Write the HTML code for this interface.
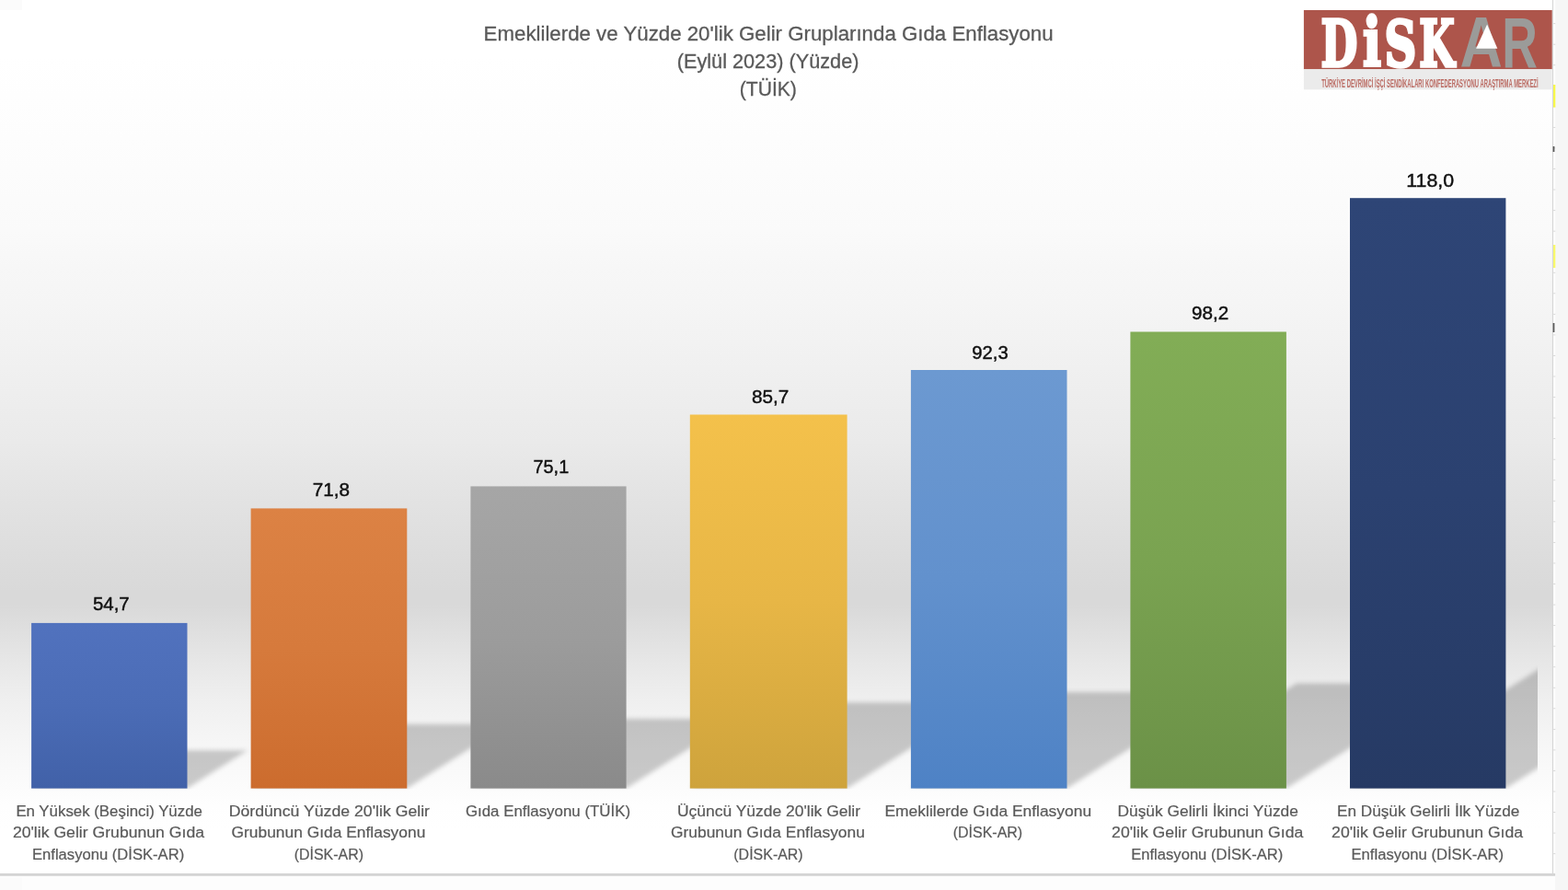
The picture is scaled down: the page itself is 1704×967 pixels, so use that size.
<!DOCTYPE html>
<html lang="tr">
<head>
<meta charset="utf-8">
<title>Emeklilerde ve Yüzde 20'lik Gelir Gruplarında Gıda Enflasyonu</title>
<style>
html,body{margin:0;padding:0;background:#fff;}
body{width:1704px;height:967px;overflow:hidden;position:relative;font-family:"Liberation Sans",sans-serif;}
svg{display:block;position:absolute;left:0;top:0;}
text{font-family:"Liberation Sans",sans-serif;}
.t{fill:#595959;font-size:21.5px;stroke:#595959;stroke-width:0.3px;}
.c{fill:#595959;font-size:16.8px;stroke:#595959;stroke-width:0.22px;}
.d{fill:#111111;font-size:20.9px;stroke:#111111;stroke-width:0.45px;}
</style>
</head>
<body>
<svg width="1704" height="967" viewBox="0 0 1704 967" role="img" aria-label="Emeklilerde ve Yüzde 20'lik Gelir Gruplarında Gıda Enflasyonu">
<defs>
<linearGradient id="bg" x1="0" y1="0" x2="0" y2="949" gradientUnits="userSpaceOnUse">
<stop offset="0.0000" stop-color="#ffffff"/>
<stop offset="0.0632" stop-color="#ffffff"/>
<stop offset="0.1581" stop-color="#fdfdfd"/>
<stop offset="0.2634" stop-color="#fafafa"/>
<stop offset="0.3056" stop-color="#f7f7f7"/>
<stop offset="0.3477" stop-color="#f5f5f5"/>
<stop offset="0.4215" stop-color="#f0f0f0"/>
<stop offset="0.5058" stop-color="#eaeaea"/>
<stop offset="0.5690" stop-color="#e3e3e3"/>
<stop offset="0.6112" stop-color="#dfdfdf"/>
<stop offset="0.6533" stop-color="#dbdbdb"/>
<stop offset="0.6776" stop-color="#d9d9d9"/>
<stop offset="0.6923" stop-color="#d9d9d9"/>
<stop offset="0.7165" stop-color="#dedede"/>
<stop offset="0.7587" stop-color="#e7e7e7"/>
<stop offset="0.8008" stop-color="#efefef"/>
<stop offset="0.8430" stop-color="#f5f5f5"/>
<stop offset="0.8851" stop-color="#fafafa"/>
<stop offset="0.9220" stop-color="#fefefe"/>
<stop offset="0.9484" stop-color="#ffffff"/>
<stop offset="1.0000" stop-color="#ffffff"/>
</linearGradient>
<linearGradient id="g0" x1="0" y1="0" x2="0" y2="1"><stop offset="0" stop-color="rgb(81,114,190)"/><stop offset="0.5" stop-color="rgb(75,108,182)"/><stop offset="1" stop-color="rgb(65,97,168)"/></linearGradient>
<linearGradient id="g1" x1="0" y1="0" x2="0" y2="1"><stop offset="0" stop-color="rgb(220,130,68)"/><stop offset="0.5" stop-color="rgb(214,122,60)"/><stop offset="1" stop-color="rgb(204,108,46)"/></linearGradient>
<linearGradient id="g2" x1="0" y1="0" x2="0" y2="1"><stop offset="0" stop-color="rgb(166,166,166)"/><stop offset="0.5" stop-color="rgb(156,156,156)"/><stop offset="1" stop-color="rgb(138,138,138)"/></linearGradient>
<linearGradient id="g3" x1="0" y1="0" x2="0" y2="1"><stop offset="0" stop-color="rgb(244,193,75)"/><stop offset="0.5" stop-color="rgb(231,182,70)"/><stop offset="1" stop-color="rgb(206,163,60)"/></linearGradient>
<linearGradient id="g4" x1="0" y1="0" x2="0" y2="1"><stop offset="0" stop-color="rgb(108,153,209)"/><stop offset="0.5" stop-color="rgb(98,145,205)"/><stop offset="1" stop-color="rgb(78,130,197)"/></linearGradient>
<linearGradient id="g5" x1="0" y1="0" x2="0" y2="1"><stop offset="0" stop-color="rgb(130,173,86)"/><stop offset="0.5" stop-color="rgb(122,163,81)"/><stop offset="1" stop-color="rgb(107,145,71)"/></linearGradient>
<linearGradient id="g6" x1="0" y1="0" x2="0" y2="1"><stop offset="0" stop-color="rgb(46,69,118)"/><stop offset="0.5" stop-color="rgb(43,65,112)"/><stop offset="1" stop-color="rgb(38,58,100)"/></linearGradient>
<filter id="bl" x="-20%" y="-20%" width="140%" height="140%"><feGaussianBlur stdDeviation="2.6"/></filter>
<clipPath id="plot"><rect x="0" y="0" width="1671" height="857.6"/></clipPath>
</defs>
<rect x="0" y="0" width="1704" height="967" fill="#f6f6f6"/>
<rect x="0" y="951" width="1690" height="16" fill="#fdfdfd"/>
<rect x="0" y="953" width="24" height="14" fill="#fbfbfb"/>
<rect x="0" y="0" width="1690.2" height="951" fill="#ffffff"/>
<rect x="0" y="0" width="1687.4" height="949.4" fill="url(#bg)"/>
<rect x="0" y="0" width="24" height="11" fill="#fbfbfb"/>
<rect x="0" y="948.9" width="1690" height="2.9" fill="#d4d4d4"/>
<rect x="1686.9" y="0" width="1.2" height="950" fill="#d6d6d6"/>
<g id="edge-marks">
<rect x="1688.2" y="25.2" width="2" height="0.9" fill="#d2d2d2"/>
<rect x="1688.2" y="47.75" width="2" height="0.9" fill="#d2d2d2"/>
<rect x="1688.2" y="70.3" width="2" height="0.9" fill="#d2d2d2"/>
<rect x="1688.2" y="92.85" width="2" height="0.9" fill="#d2d2d2"/>
<rect x="1688.2" y="115.4" width="2" height="0.9" fill="#d2d2d2"/>
<rect x="1688.2" y="137.95" width="2" height="0.9" fill="#d2d2d2"/>
<rect x="1688.2" y="160.5" width="2" height="0.9" fill="#d2d2d2"/>
<rect x="1688.2" y="183.05" width="2" height="0.9" fill="#d2d2d2"/>
<rect x="1688.2" y="205.6" width="2" height="0.9" fill="#d2d2d2"/>
<rect x="1688.2" y="228.15" width="2" height="0.9" fill="#d2d2d2"/>
<rect x="1688.2" y="250.7" width="2" height="0.9" fill="#d2d2d2"/>
<rect x="1688.2" y="273.25" width="2" height="0.9" fill="#d2d2d2"/>
<rect x="1688.2" y="295.8" width="2" height="0.9" fill="#d2d2d2"/>
<rect x="1688.2" y="318.35" width="2" height="0.9" fill="#d2d2d2"/>
<rect x="1688.2" y="340.9" width="2" height="0.9" fill="#d2d2d2"/>
<rect x="1688.2" y="363.45" width="2" height="0.9" fill="#d2d2d2"/>
<rect x="1688.2" y="386" width="2" height="0.9" fill="#d2d2d2"/>
<rect x="1688.2" y="408.55" width="2" height="0.9" fill="#d2d2d2"/>
<rect x="1688.2" y="431.1" width="2" height="0.9" fill="#d2d2d2"/>
<rect x="1688.2" y="453.65" width="2" height="0.9" fill="#d2d2d2"/>
<rect x="1688.2" y="476.2" width="2" height="0.9" fill="#d2d2d2"/>
<rect x="1688.2" y="498.75" width="2" height="0.9" fill="#d2d2d2"/>
<rect x="1688.2" y="521.3" width="2" height="0.9" fill="#d2d2d2"/>
<rect x="1688.2" y="543.85" width="2" height="0.9" fill="#d2d2d2"/>
<rect x="1688.2" y="566.4" width="2" height="0.9" fill="#d2d2d2"/>
<rect x="1688.2" y="588.95" width="2" height="0.9" fill="#d2d2d2"/>
<rect x="1688.2" y="611.5" width="2" height="0.9" fill="#d2d2d2"/>
<rect x="1688.2" y="634.05" width="2" height="0.9" fill="#d2d2d2"/>
<rect x="1688.2" y="656.6" width="2" height="0.9" fill="#d2d2d2"/>
<rect x="1688.2" y="679.15" width="2" height="0.9" fill="#d2d2d2"/>
<rect x="1688.2" y="701.7" width="2" height="0.9" fill="#d2d2d2"/>
<rect x="1688.2" y="724.25" width="2" height="0.9" fill="#d2d2d2"/>
<rect x="1688.2" y="746.8" width="2" height="0.9" fill="#d2d2d2"/>
<rect x="1688.2" y="769.35" width="2" height="0.9" fill="#d2d2d2"/>
<rect x="1688.2" y="791.9" width="2" height="0.9" fill="#d2d2d2"/>
<rect x="1688.2" y="814.45" width="2" height="0.9" fill="#d2d2d2"/>
<rect x="1688.2" y="837" width="2" height="0.9" fill="#d2d2d2"/>
<rect x="1688.2" y="859.55" width="2" height="0.9" fill="#d2d2d2"/>
<rect x="1688.2" y="882.1" width="2" height="0.9" fill="#d2d2d2"/>
<rect x="1688.2" y="904.65" width="2" height="0.9" fill="#d2d2d2"/>
<rect x="1688.2" y="927.2" width="2" height="0.9" fill="#d2d2d2"/>
<rect x="1688.2" y="949.75" width="2" height="0.9" fill="#d2d2d2"/>
<rect x="1688" y="92" width="2.3" height="24.6" fill="#f7f74a"/>
<rect x="1688" y="266" width="2.3" height="25" fill="#f8f86a"/>
<rect x="1687.6" y="159" width="1.8" height="6" fill="#5a5a5a"/>
<rect x="1687.6" y="351" width="1.8" height="10" fill="#5a5a5a"/>
</g>
<g clip-path="url(#plot)"><g filter="url(#bl)" fill="#000" fill-opacity="0.2">
<polygon points="34.1,856.6 203.5,856.6 268.91,815.27 99.51,815.27"/>
<polygon points="272.6,856.6 442.3,856.6 553.02,786.63 383.32,786.63"/>
<polygon points="511.4,856.6 680.6,856.6 800.06,781.11 630.86,781.11"/>
<polygon points="749.8,856.6 920.6,856.6 1068.41,763.2 897.61,763.2"/>
<polygon points="989.9,856.6 1159.5,856.6 1324.96,752.04 1155.36,752.04"/>
<polygon points="1228.4,856.6 1397.9,856.6 1578.47,742.5 1408.97,742.5"/>
<polygon points="1467,856.6 1636.4,856.6 1869.85,709.08 1700.45,709.08"/>
</g></g>
<rect x="34.1" y="676.9" width="169.4" height="179.7" fill="url(#g0)"/>
<rect x="272.6" y="552.4" width="169.7" height="304.2" fill="url(#g1)"/>
<rect x="511.4" y="528.4" width="169.2" height="328.2" fill="url(#g2)"/>
<rect x="749.8" y="450.5" width="170.8" height="406.1" fill="url(#g3)"/>
<rect x="989.9" y="402" width="169.6" height="454.6" fill="url(#g4)"/>
<rect x="1228.4" y="360.5" width="169.5" height="496.1" fill="url(#g5)"/>
<rect x="1467" y="215.2" width="169.4" height="641.4" fill="url(#g6)"/>
<text class="d" x="100.9" y="663.1" textLength="39.8" lengthAdjust="spacingAndGlyphs">54,7</text>
<text class="d" x="339.7" y="538.6" textLength="40.4" lengthAdjust="spacingAndGlyphs">71,8</text>
<text class="d" x="579.5" y="514.3" textLength="38.7" lengthAdjust="spacingAndGlyphs">75,1</text>
<text class="d" x="817.1" y="438.3" textLength="40.3" lengthAdjust="spacingAndGlyphs">85,7</text>
<text class="d" x="1056.3" y="389.5" textLength="39.4" lengthAdjust="spacingAndGlyphs">92,3</text>
<text class="d" x="1294.9" y="346.9" textLength="40.3" lengthAdjust="spacingAndGlyphs">98,2</text>
<text class="d" x="1528.3" y="203" textLength="51.8" lengthAdjust="spacingAndGlyphs">118,0</text>
<text class="c" x="17.4" y="887.3" textLength="202.5" lengthAdjust="spacingAndGlyphs">En Yüksek (Beşinci) Yüzde</text>
<text class="c" x="13.9" y="910" textLength="208.1" lengthAdjust="spacingAndGlyphs">20'lik Gelir Grubunun Gıda</text>
<text class="c" x="35" y="933.6" textLength="165.2" lengthAdjust="spacingAndGlyphs">Enflasyonu (DİSK-AR)</text>
<text class="c" x="248.7" y="887.3" textLength="218.3" lengthAdjust="spacingAndGlyphs">Dördüncü Yüzde 20'lik Gelir</text>
<text class="c" x="251.5" y="910" textLength="210.8" lengthAdjust="spacingAndGlyphs">Grubunun Gıda Enflasyonu</text>
<text class="c" x="319.7" y="933.6" textLength="75.4" lengthAdjust="spacingAndGlyphs">(DİSK-AR)</text>
<text class="c" x="505.9" y="887.3" textLength="179.2" lengthAdjust="spacingAndGlyphs">Gıda Enflasyonu (TÜİK)</text>
<text class="c" x="736" y="887.3" textLength="199" lengthAdjust="spacingAndGlyphs">Üçüncü Yüzde 20'lik Gelir</text>
<text class="c" x="729" y="910" textLength="210.9" lengthAdjust="spacingAndGlyphs">Grubunun Gıda Enflasyonu</text>
<text class="c" x="797.3" y="933.6" textLength="75.4" lengthAdjust="spacingAndGlyphs">(DİSK-AR)</text>
<text class="c" x="961.5" y="887.3" textLength="224.6" lengthAdjust="spacingAndGlyphs">Emeklilerde Gıda Enflasyonu</text>
<text class="c" x="1035.7" y="910" textLength="75.5" lengthAdjust="spacingAndGlyphs">(DİSK-AR)</text>
<text class="c" x="1214.5" y="887.3" textLength="196.4" lengthAdjust="spacingAndGlyphs">Düşük Gelirli İkinci Yüzde</text>
<text class="c" x="1208.1" y="910" textLength="208.2" lengthAdjust="spacingAndGlyphs">20'lik Gelir Grubunun Gıda</text>
<text class="c" x="1229.2" y="933.6" textLength="165.2" lengthAdjust="spacingAndGlyphs">Enflasyonu (DİSK-AR)</text>
<text class="c" x="1453" y="887.3" textLength="198.3" lengthAdjust="spacingAndGlyphs">En Düşük Gelirli İlk Yüzde</text>
<text class="c" x="1447.1" y="910" textLength="208" lengthAdjust="spacingAndGlyphs">20'lik Gelir Grubunun Gıda</text>
<text class="c" x="1468.5" y="933.6" textLength="165.5" lengthAdjust="spacingAndGlyphs">Enflasyonu (DİSK-AR)</text>
<text class="t" x="525.6" y="43.6" textLength="619" lengthAdjust="spacingAndGlyphs">Emeklilerde ve Yüzde 20'lik Gelir Gruplarında Gıda Enflasyonu</text>
<text class="t" x="735.7" y="74" textLength="197.8" lengthAdjust="spacingAndGlyphs">(Eylül 2023) (Yüzde)</text>
<text class="t" x="803.8" y="104" textLength="62" lengthAdjust="spacingAndGlyphs">(TÜİK)</text>
<g id="logo">
<rect x="1416.9" y="11" width="269.8" height="64.3" fill="#ad554b"/>
<rect x="1416.9" y="75.2" width="269.8" height="22.1" fill="#ebebeb"/>
<text y="71.9" font-size="68.493" font-weight="bold" fill="#ffffff" stroke="#ffffff" stroke-width="3.4" stroke-linejoin="miter" style="font-family:'DejaVu Serif',serif">
<tspan x="1435.405" textLength="39.802" lengthAdjust="spacingAndGlyphs">D</tspan><tspan x="1481.118" textLength="20.036" lengthAdjust="spacingAndGlyphs" font-size="73.63">i</tspan><tspan x="1504.431" textLength="34.763" lengthAdjust="spacingAndGlyphs">S</tspan><tspan x="1542.182" textLength="38.552" lengthAdjust="spacingAndGlyphs">K</tspan></text>
<text y="73" font-size="77.3" font-weight="bold" fill="#9b9b99" style="font-family:'Liberation Sans',sans-serif">
<tspan x="1586.577" textLength="46.286" lengthAdjust="spacingAndGlyphs">A</tspan><tspan x="1632.356" textLength="38.631" lengthAdjust="spacingAndGlyphs">R</tspan></text>
<polygon points="1616.1,26.5 1627.3,52.8 1604.1,52.8" fill="#ffffff"/>
<text x="1436.2" y="94.7" textLength="235.4" lengthAdjust="spacingAndGlyphs" font-size="12.6" font-weight="bold" fill="#b65f57" fill-opacity="0.92" style="font-family:'Liberation Sans',sans-serif">TÜRKİYE DEVRİMCİ İŞÇİ SENDİKALARI KONFEDERASYONU ARAŞTIRMA MERKEZİ</text>
</g>
</svg>
</body>
</html>
